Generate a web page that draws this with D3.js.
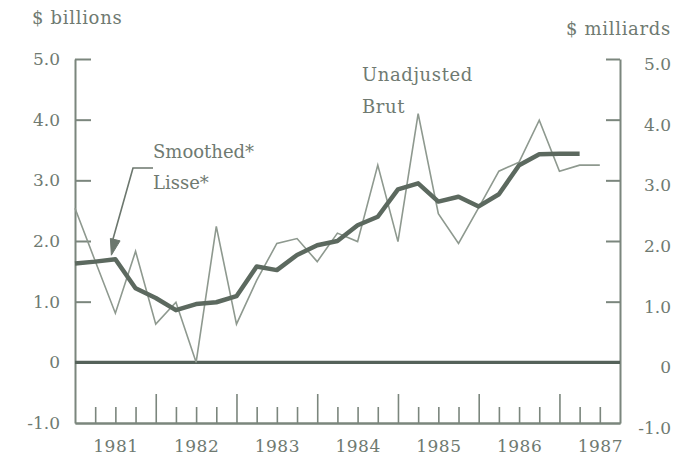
<!DOCTYPE html>
<html>
<head>
<meta charset="utf-8">
<script src="https://cdn.jsdelivr.net/npm/d3@7"></script>
<style>
  html, body { margin: 0; padding: 0; background: #ffffff; }
  svg { display: block; }
  text { font-family: "DejaVu Serif", serif; fill: #6f7a71; }
</style>
</head>
<body>
<div id="chart"></div>
<script>
// ---- data ----
const years = ["1981", "1982", "1983", "1984", "1985", "1986", "1987"];
// quarterly values, $ billions (quarter index 0..26)
const unadjusted = [2.54, 1.67, 0.81, 1.83, 0.63, 0.99, 0.00, 2.24, 0.63, 1.35, 1.96, 2.04, 1.66, 2.13,
                    1.99, 3.25, 1.99, 4.10, 2.45, 1.96, 2.55, 3.15, 3.30, 3.99, 3.15, 3.25, 3.25];
const smoothed   = [1.63, 1.66, 1.70, 1.22, 1.06, 0.86, 0.96, 0.99, 1.09, 1.58, 1.52, 1.77, 1.93, 2.00,
                    2.26, 2.40, 2.85, 2.95, 2.65, 2.73, 2.57, 2.77, 3.25, 3.43, 3.44, 3.44];
const yTicks = [-1, 0, 1, 2, 3, 4, 5];
const yTickLabels = ["-1.0", "0", "1.0", "2.0", "3.0", "4.0", "5.0"];
const leftTitle = "$ billions";
const rightTitle = "$ milliards";
const smoothLabel = ["Smoothed*", "Lisse*"];
const rawLabel = ["Unadjusted", "Brut"];

// ---- layout ----
const W = 683, H = 457;
const x0 = 75, x1 = 620, yTop = 59, yBot = 423;
const nQ = 27;

const svg = d3.select("#chart").append("svg").attr("width", W).attr("height", H);
svg.append("rect").attr("width", W).attr("height", H).attr("fill", "#ffffff");

const x = d3.scaleLinear().domain([0, nQ]).range([x0, x1]);
const y = d3.scaleLinear().domain([-1, 5]).range([yBot, yTop]);

const axisColor = "#7b867d";
const textColor = "#6c776e";
const fontSize = 17;

// left axis
const gL = svg.append("g").attr("transform", `translate(${x0},0)`)
  .call(d3.axisLeft(y).tickValues(yTicks).tickSizeInner(-16).tickSizeOuter(0).tickPadding(15)
        .tickFormat((d, i) => yTickLabels[i]));
// right axis
const gR = svg.append("g").attr("transform", `translate(${x1},0)`)
  .call(d3.axisRight(y).tickValues(yTicks).tickSizeInner(-14).tickSizeOuter(0).tickPadding(51)
        .tickFormat((d, i) => yTickLabels[i]));
gR.selectAll(".tick text").attr("text-anchor", "end").attr("dy", "0.62em");

[gL, gR].forEach(g => {
  g.select(".domain").attr("stroke", axisColor).attr("stroke-width", 2);
  g.selectAll(".tick line").attr("stroke", axisColor).attr("stroke-width", 2);
  g.selectAll(".tick text").attr("font-size", fontSize).attr("font-family", "DejaVu Serif").attr("fill", textColor);
});
// hide the -1 tick line (axis corner)
gL.selectAll(".tick").filter(d => d === -1).select("line").remove();
gR.selectAll(".tick").filter(d => d === -1).select("line").remove();

// bottom axis: minor and major quarter ticks
const minorQ = d3.range(1, nQ).filter(q => q % 4 !== 0);
const majorQ = d3.range(4, nQ, 4);
const gMinor = svg.append("g").attr("transform", `translate(0,${yBot})`)
  .call(d3.axisBottom(x).tickValues(minorQ).tickSizeInner(-16).tickSizeOuter(0).tickFormat(""));
const gMajor = svg.append("g").attr("transform", `translate(0,${yBot})`)
  .call(d3.axisBottom(x).tickValues(majorQ).tickSizeInner(-29).tickSizeOuter(0).tickFormat(""));
[gMinor, gMajor].forEach(g => {
  g.select(".domain").attr("stroke", axisColor).attr("stroke-width", 2);
  g.selectAll(".tick line").attr("stroke", axisColor).attr("stroke-width", 1.6);
});
// year labels
const yearQ = years.map((d, i) => 2 + 4 * i);
const gYears = svg.append("g").attr("transform", `translate(0,${yBot})`)
  .call(d3.axisBottom(x).tickValues(yearQ).tickSize(0).tickPadding(17).tickFormat((d, i) => years[i]));
gYears.select(".domain").remove();
gYears.selectAll(".tick text").attr("font-size", fontSize).attr("font-family", "DejaVu Serif")
  .attr("fill", textColor).attr("letter-spacing", 0.5);

// zero line
svg.append("line").attr("x1", x0).attr("x2", x1).attr("y1", y(0)).attr("y2", y(0))
  .attr("stroke", "#55625a").attr("stroke-width", 3.2);

// series
const line = d3.line().x((d, i) => x(i)).y(d => y(d));
svg.append("path").datum(unadjusted).attr("d", line)
  .attr("fill", "none").attr("stroke", "#8e998f").attr("stroke-width", 1.6).attr("stroke-linejoin", "miter");
svg.append("path").datum(smoothed).attr("d", line)
  .attr("fill", "none").attr("stroke", "#5c695f").attr("stroke-width", 4.5)
  .attr("stroke-linejoin", "round").attr("stroke-linecap", "butt");

// titles
svg.append("text").attr("x", 32).attr("y", 24).attr("font-size", 18).attr("letter-spacing", 0.7)
  .attr("fill", textColor).text(leftTitle);
svg.append("text").attr("x", 671).attr("y", 35).attr("text-anchor", "end").attr("font-size", 18)
  .attr("letter-spacing", 0.7).attr("fill", textColor).text(rightTitle);

// annotations
svg.append("text").attr("x", 153).attr("y", 158).attr("font-size", 18).attr("fill", textColor).text(smoothLabel[0]);
svg.append("text").attr("x", 153).attr("y", 189).attr("font-size", 18).attr("fill", textColor).text(smoothLabel[1]);
svg.append("text").attr("x", 362).attr("y", 81).attr("font-size", 18).attr("letter-spacing", 0.6).attr("fill", textColor).text(rawLabel[0]);
svg.append("text").attr("x", 362).attr("y", 113).attr("font-size", 18).attr("letter-spacing", 0.6).attr("fill", textColor).text(rawLabel[1]);

// arrow pointing at smoothed series
const tip = [x(2) - 4, y(smoothed[2]) - 4];
const elbow = [133, 168];
svg.append("path")
  .attr("d", `M153,168 L${elbow[0]},${elbow[1]} L${tip[0] + 1},${tip[1] - 14}`)
  .attr("fill", "none").attr("stroke", textColor).attr("stroke-width", 1.6);
const ang = Math.atan2(tip[1] - elbow[1], tip[0] - elbow[0]);
const L = 16, w = 5;
const bx = tip[0] - L * Math.cos(ang), by = tip[1] - L * Math.sin(ang);
const px = -Math.sin(ang) * w, py = Math.cos(ang) * w;
svg.append("path")
  .attr("d", `M${tip[0]},${tip[1]} L${bx + px},${by + py} L${bx - px},${by - py} Z`)
  .attr("fill", textColor).attr("stroke", textColor).attr("stroke-width", 1);
</script>
</body>
</html>
